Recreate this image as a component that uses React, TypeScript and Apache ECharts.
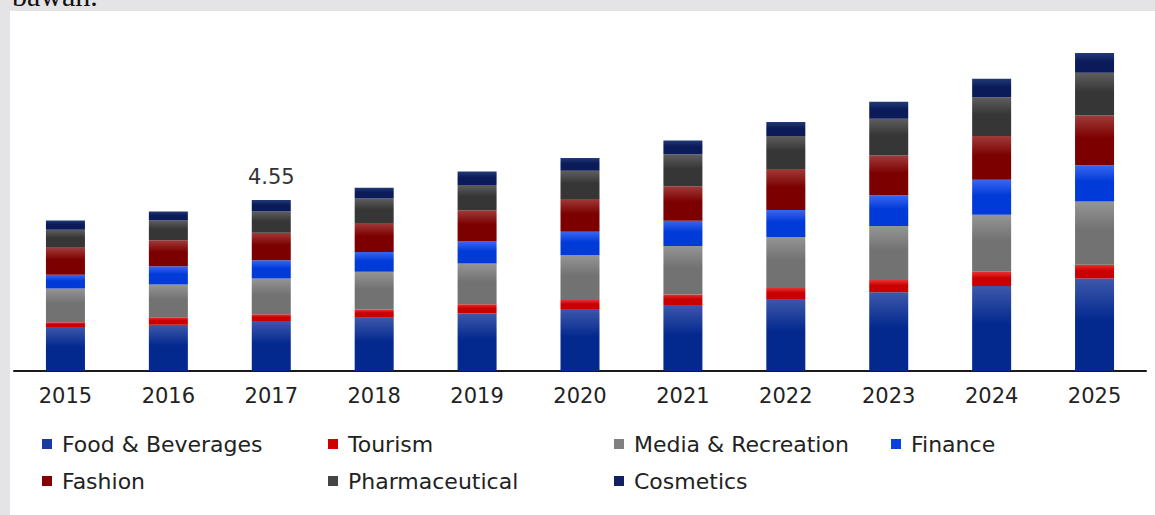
import React, { useEffect, useRef } from "react";
import * as echarts from "echarts";

const years = ["2015", "2016", "2017", "2018", "2019", "2020", "2021", "2022", "2023", "2024", "2025"];
const foodBeverages = [1.17, 1.23, 1.33, 1.42, 1.53, 1.65, 1.76, 1.92, 2.1, 2.26, 2.46];
const tourism = [0.13, 0.2, 0.18, 0.22, 0.25, 0.24, 0.28, 0.29, 0.32, 0.38, 0.37];
const mediaRecreation = [0.9, 0.87, 0.95, 1.0, 1.08, 1.19, 1.29, 1.36, 1.44, 1.52, 1.68];
const finance = [0.36, 0.49, 0.49, 0.53, 0.59, 0.63, 0.67, 0.72, 0.82, 0.93, 0.97];
const fashion = [0.72, 0.69, 0.73, 0.77, 0.83, 0.87, 0.92, 1.09, 1.06, 1.17, 1.32];
const pharmaceutical = [0.48, 0.53, 0.57, 0.65, 0.67, 0.75, 0.85, 0.88, 0.98, 1.03, 1.14];
const cosmetics = [0.25, 0.24, 0.3, 0.29, 0.36, 0.34, 0.37, 0.37, 0.45, 0.49, 0.53];
const highlightIndex = 2;
const highlightLabel = "4.55";

const seriesDefs = [
  { name: "Food & Beverages", data: foodBeverages, light: "#3d58ab", dark: "#03298f", solid: "#1a3aa0" },
  { name: "Tourism", data: tourism, light: "#e83030", dark: "#c80000", solid: "#d00000" },
  { name: "Media & Recreation", data: mediaRecreation, light: "#959595", dark: "#727272", solid: "#808080" },
  { name: "Finance", data: finance, light: "#3a66f0", dark: "#003ad8", solid: "#0a40e0" },
  { name: "Fashion", data: fashion, light: "#a03a3a", dark: "#7c0000", solid: "#850000" },
  { name: "Pharmaceutical", data: pharmaceutical, light: "#5e5e5e", dark: "#363636", solid: "#454545" },
  { name: "Cosmetics", data: cosmetics, light: "#223a78", dark: "#0b1a58", solid: "#102060" },
];

const legendColumns = [
  { left: 42, names: ["Food & Beverages", "Fashion"] },
  { left: 328, names: ["Tourism", "Pharmaceutical"] },
  { left: 614, names: ["Media & Recreation", "Cosmetics"] },
  { left: 891, names: ["Finance"] },
];

const FONT = "'DejaVu Sans'";

export default function App() {
  const ref = useRef<HTMLDivElement>(null);
  useEffect(() => {
    if (!ref.current) return;
    const chart = echarts.init(ref.current, null, { renderer: "svg" });
    const solidOf = (n: string) => seriesDefs.find((s) => s.name === n)!.solid;
    const option: any = {
      animation: false,
      backgroundColor: "#e4e4e6",
      graphic: [
        { type: "rect", shape: { x: 10, y: 11, width: 1145, height: 504 }, style: { fill: "#ffffff" }, z: -10 },
        {
          type: "text",
          x: 12,
          y: -5,
          style: { text: "bawah.", font: "30px 'Liberation Serif'", fill: "#111", verticalAlign: "middle" },
        },
      ],
      grid: { left: 14, right: 9, top: 33, bottom: 144 },
      xAxis: {
        type: "category",
        data: years,
        axisLine: { lineStyle: { color: "#1a1a1a", width: 2 } },
        axisTick: { show: false },
        axisLabel: { color: "#222", fontFamily: FONT, fontSize: 21, margin: 14 },
      },
      yAxis: { type: "value", min: 0, max: 9, show: false, splitLine: { show: false } },
      legend: legendColumns.map((c) => ({
        left: c.left,
        top: 433,
        orient: "vertical",
        padding: 0,
        itemGap: 15,
        itemWidth: 10,
        itemHeight: 10,
        icon: "rect",
        selectedMode: false,
        textStyle: { color: "#222", fontFamily: FONT, fontSize: 22, padding: [0, 0, 0, 5] },
        data: c.names.map((n) => ({ name: n, itemStyle: { color: solidOf(n) } })),
      })),
      series: seriesDefs.map((s, si) => ({
        name: s.name,
        type: "bar",
        stack: "total",
        barWidth: 39,
        data: s.data.map((v, i) =>
          si === seriesDefs.length - 1 && i === highlightIndex
            ? {
                value: v,
                label: {
                  show: true,
                  position: "top",
                  distance: 13,
                  formatter: highlightLabel,
                  color: "#333",
                  fontFamily: FONT,
                  fontSize: 21,
                },
              }
            : v
        ),
        itemStyle: {
          color: new echarts.graphic.LinearGradient(0, 0, 0, 1, [
            { offset: 0, color: s.light },
            { offset: 0.45, color: s.dark },
            { offset: 1, color: s.dark },
          ]),
        },
      })),
    };
    chart.setOption(option);
    return () => chart.dispose();
  }, []);
  return (
    <div
      ref={ref}
      style={{ position: "fixed", left: 0, top: 0, width: 1155, height: 515 }}
    />
  );
}
